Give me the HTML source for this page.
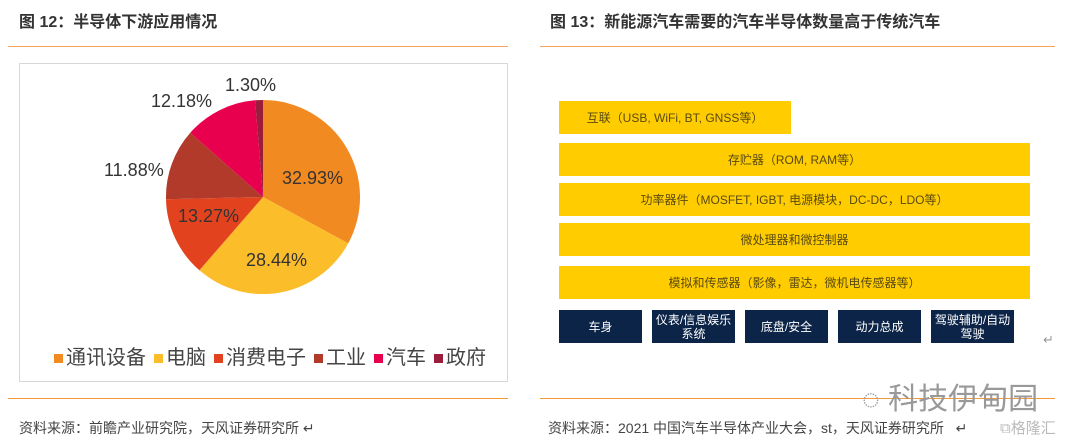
<!DOCTYPE html><html><head><meta charset="utf-8"><style>
body{margin:0;width:1080px;height:445px;background:#fff;position:relative;overflow:hidden;font-family:"Liberation Sans","Noto Sans CJK SC",sans-serif}
.a{position:absolute}
.t{font-size:16px;font-weight:bold;color:#333;white-space:nowrap}
.l{height:1px;background:#f4a460}
.s{font-size:14px;color:#444;white-space:nowrap}
.y{background:#ffcc00;color:#5a4a10;font-size:12px;display:flex;align-items:center;justify-content:center}
.d{background:#0b2447;color:#fff;font-size:12px;display:flex;align-items:center;justify-content:center;text-align:center;line-height:14px;top:310px;height:33px;width:83px}
.p{font-size:18px;color:#333}
.lg{font-size:20px;color:#444;top:341px;white-space:nowrap}
.lg i{display:inline-block;width:9px;height:9px;margin:0 3px 0 8px;vertical-align:middle}
</style></head><body>
<div class="a t" style="left:19px;top:8px">图 12：半导体下游应用情况</div>
<div class="a t" style="left:550px;top:8px">图 13：新能源汽车需要的汽车半导体数量高于传统汽车</div>
<div class="a l" style="left:8px;top:46px;width:500px"></div>
<div class="a l" style="left:540px;top:46px;width:515px"></div>
<div class="a" style="left:19px;top:63px;width:487px;height:317px;border:1px solid #d8d8d8"></div>
<svg class="a" style="left:0;top:0" width="540" height="400">
<path d="M263,197 L263,100 A97,97 0 0 1 348.2,243.4Z" fill="#f28a22"/>
<path d="M263,197 L348.2,243.4 A97,97 0 0 1 199.4,270.3Z" fill="#fbbd2a"/>
<path d="M263,197 L199.4,270.3 A97,97 0 0 1 166,199.2Z" fill="#e2431e"/>
<path d="M263,197 L166,199.2 A97,97 0 0 1 190.3,132.7Z" fill="#b23a2a"/>
<path d="M263,197 L190.3,132.7 A97,97 0 0 1 255.1,100.3Z" fill="#e8004f"/>
<path d="M263,197 L255.1,100.3 A97,97 0 0 1 263,100Z" fill="#9c1c3c"/>
</svg>
<div class="a p" style="left:282px;top:168px">32.93%</div>
<div class="a p" style="left:246px;top:250px">28.44%</div>
<div class="a p" style="left:178px;top:206px">13.27%</div>
<div class="a p" style="left:104px;top:160px">11.88%</div>
<div class="a p" style="left:151px;top:91px">12.18%</div>
<div class="a p" style="left:225px;top:75px">1.30%</div>
<div class="a lg" style="left:46px"><i style="background:#f28a22"></i>通讯设备<i style="background:#fbbd2a"></i>电脑<i style="background:#e2431e"></i>消费电子<i style="background:#b23a2a"></i>工业<i style="background:#e8004f"></i>汽车<i style="background:#9c1c3c"></i>政府</div>
<div class="a l" style="left:8px;top:398px;width:500px;background:#f39a3c"></div>
<div class="a l" style="left:540px;top:398px;width:515px;background:#f39a3c"></div>
<div class="a s" style="left:19px;top:418px">资料来源：前瞻产业研究院，天风证券研究所 ↵</div>
<div class="a s" style="left:548px;top:418px">资料来源：2021 中国汽车半导体产业大会，st，天风证券研究所 &nbsp;&nbsp;↵</div>
<div class="a" style="left:862px;top:374px;font-size:30px;color:#999;white-space:nowrap">◌ 科技伊甸园</div>
<div class="a" style="left:1000px;top:417px;font-size:15px;color:#bbb">⧉格隆汇</div>
<div class="a y" style="left:559px;top:101px;width:232px;height:33px">互联（USB, WiFi, BT, GNSS等）</div>
<div class="a y" style="left:559px;top:143px;width:471px;height:33px">存贮器（ROM, RAM等）</div>
<div class="a y" style="left:559px;top:183px;width:471px;height:33px">功率器件（MOSFET, IGBT, 电源模块，DC-DC，LDO等）</div>
<div class="a y" style="left:559px;top:223px;width:471px;height:33px">微处理器和微控制器</div>
<div class="a y" style="left:559px;top:266px;width:471px;height:33px">模拟和传感器（影像，雷达，微机电传感器等）</div>
<div class="a d" style="left:559px">车身</div>
<div class="a d" style="left:652px">仪表/信息娱乐<br>系统</div>
<div class="a d" style="left:745px">底盘/安全</div>
<div class="a d" style="left:838px">动力总成</div>
<div class="a d" style="left:931px">驾驶辅助/自动<br>驾驶</div>
<div class="a" style="left:1043px;top:332px;font-size:13px;color:#999">↵</div>
</body></html>
